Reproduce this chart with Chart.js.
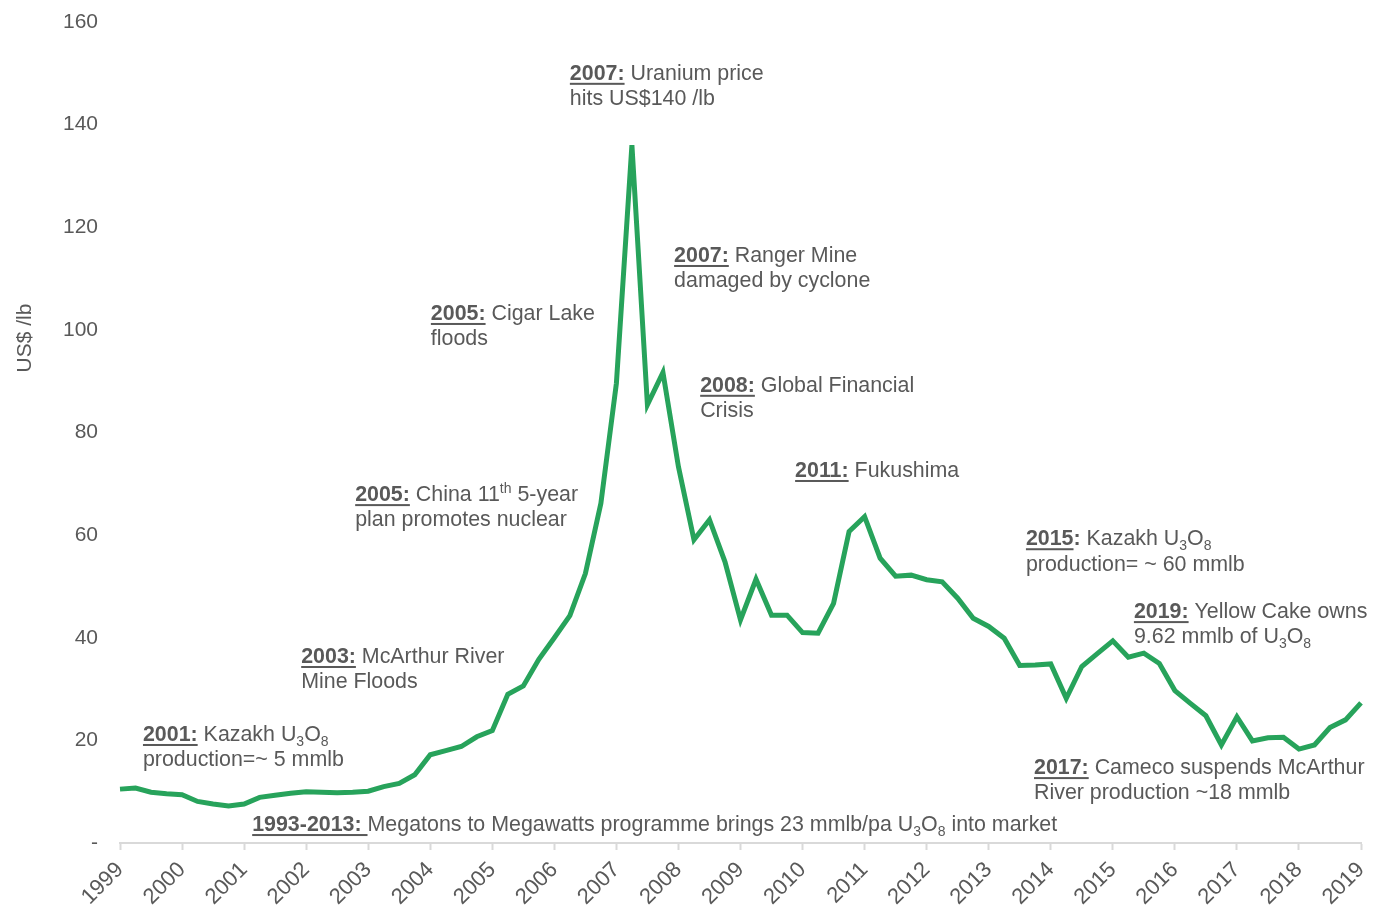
<!DOCTYPE html>
<html>
<head>
<meta charset="utf-8">
<script src="https://cdn.jsdelivr.net/npm/chart.js@4/dist/chart.umd.min.js"></script>
<style>
  body { margin: 0; background: #fff; }
  #wrap { width: 1374px; height: 909px; position: relative; }
</style>
</head>
<body>
<div id="wrap"><canvas id="uraniumChart"></canvas></div>
<script>
// quarterly uranium spot price, US$/lb, 1999 Q1 .. 2019 Q1
const years = [1999, 2000, 2001, 2002, 2003, 2004, 2005, 2006, 2007, 2008,
   2009, 2010, 2011, 2012, 2013, 2014, 2015, 2016, 2017, 2018, 2019]
const quarters = ["Q1", "Q2", "Q3", "Q4"]
const prices = [
   10.5, 10.7, 9.9, 9.6,      // 1999
   9.4, 8.1, 7.6, 7.2,        // 2000
   7.6, 8.9, 9.3, 9.7,        // 2001
   10.0, 9.9, 9.8, 9.9,       // 2002
   10.1, 11.0, 11.6, 13.3,    // 2003
   17.2, 18.0, 18.8, 20.7,    // 2004
   21.9, 29.0, 30.6, 35.8,    // 2005
   40.0, 44.3, 52.5, 66.2,    // 2006
   89.6, 136.0, 85.4, 91.7,   // 2007
   73.3, 59.1, 63.0, 54.8,    // 2008
   43.5, 51.4, 44.4, 44.4,    // 2009
   41.0, 40.9, 46.7, 60.7,    // 2010
   63.6, 55.5, 52.0, 52.2,    // 2011
   51.3, 50.9, 47.7, 43.8,    // 2012
   42.2, 39.9, 34.6, 34.7,    // 2013
   34.9, 28.2, 34.4, 36.9,    // 2014
   39.4, 36.2, 37.0, 35.0,    // 2015
   29.7, 27.2, 24.8, 19.1,    // 2016
   24.6, 19.9, 20.5, 20.6,    // 2017
   18.3, 19.1, 22.5, 24.0,    // 2018
   27.3                       // 2019
]
const yTicks = [0, 20, 40, 60, 80, 100, 120, 140, 160]
const yTitle = "US$ /lb"

// annotations: anchor in data space (x = fractional year, y = price), lines of [style, text]
const notes = [
   { x: 2006.25, y: 149.9, lines: [[["bu", "2007:"], ["n", " Uranium price"]], [["n", "hits US$140 /lb"]]] },
   { x: 2007.93, y: 114.4, lines: [[["bu", "2007:"], ["n", " Ranger Mine"]], [["n", "damaged by cyclone"]]] },
   { x: 2004.01, y: 103.1, lines: [[["bu", "2005:"], ["n", " Cigar Lake"]], [["n", "floods"]]] },
   { x: 2008.35, y: 89.1, lines: [[["bu", "2008:"], ["n", " Global Financial"]], [["n", "Crisis"]]] },
   { x: 2009.88, y: 72.5, lines: [[["bu", "2011:"], ["n", " Fukushima"]]] },
   { x: 2002.79, y: 67.8, lines: [[["bu", "2005:"], ["n", " China 11"], ["sup", "th"], ["n", " 5-year"]], [["n", "plan promotes nuclear"]]] },
   { x: 2013.60, y: 59.2, lines: [[["bu", "2015"], ["b", ":"], ["n", " Kazakh U"], ["sub", "3"], ["n", "O"], ["sub", "8"]], [["n", "production= ~ 60 mmlb"]]] },
   { x: 2015.34, y: 45.0, lines: [[["bu", "2019:"], ["n", " Yellow Cake owns"]], [["n", "9.62 mmlb of U"], ["sub", "3"], ["n", "O"], ["sub", "8"]]] },
   { x: 2001.92, y: 36.25, lines: [[["bu", "2003:"], ["n", " McArthur River"]], [["n", "Mine Floods"]]] },
   { x: 1999.37, y: 21.05, lines: [[["bu", "2001:"], ["n", " Kazakh U"], ["sub", "3"], ["n", "O"], ["sub", "8"]], [["n", "production=~ 5 mmlb"]]] },
   { x: 2013.73, y: 14.6, lines: [[["bu", "2017:"], ["n", " Cameco suspends McArthur"]], [["n", "River production ~18 mmlb"]]] },
   { x: 2001.13, y: 3.5, lines: [[["bu", "1993-2013: "], ["n", "Megatons to Megawatts programme brings 23 mmlb/pa U"], ["sub", "3"], ["n", "O"], ["sub", "8"], ["n", " into market"]]] },
]

const labels = []
years.forEach(yr => {
   quarters.forEach(q => {
      if (labels.length < prices.length) labels.push(yr + " " + q)
   })
})

const FONT = '"Liberation Sans", Arial, sans-serif'
const TEXT = "#595959"
const AXIS = "#d9d9d9"

drawRich = (ctx, x, y, segs) => {
   let cx = x
   segs.forEach(([style, txt]) => {
      let size = 21.4
      let dy = 0
      if (style === "sub") { size = 14; dy = 7 }
      if (style === "sup") { size = 14; dy = -6 }
      const weight = style[0] === "b" ? "bold " : ""
      ctx.font = weight + size + "px " + FONT
      ctx.fillText(txt, cx, y + dy)
      const w = ctx.measureText(txt).width
      if (style === "bu") ctx.fillRect(cx, y + 9, w, 2)
      cx += w
   })
}

const notesPlugin = {
   id: "notes",
   afterDraw(chart) {
      const ctx = chart.ctx
      const xs = chart.scales.x
      const ys = chart.scales.y
      ctx.save()
      ctx.fillStyle = TEXT
      ctx.textBaseline = "middle"
      ctx.textAlign = "left"
      notes.forEach(note => {
         // fractional year -> category index
         const px = xs.getPixelForValue((note.x - years[0]) * 4)
         const py = ys.getPixelForValue(note.y)
         note.lines.forEach((line, i) => drawRich(ctx, px, py + i * 25.5, line))
      })
      // y axis title
      ctx.translate(25, 338)
      ctx.rotate(-Math.PI / 2)
      ctx.textAlign = "center"
      ctx.font = "21px " + FONT
      ctx.fillText(yTitle, 0, 0)
      ctx.restore()
   },
}

const chartCanvas = document.getElementById("uraniumChart")
const uraniumChart = new Chart(chartCanvas.getContext("2d"), {
   type: "line",
   data: {
      labels: labels,
      datasets: [
         {
            label: "Uranium price",
            data: prices,
            borderColor: "#27a35b",
            borderWidth: 5,
            pointRadius: 0,
            tension: 0,
            fill: false,
         },
      ],
   },
   options: {
      responsive: true,
      maintainAspectRatio: false,
      animation: false,
      layout: { padding: { left: 0, right: 13, top: 22, bottom: 0 } },
      plugins: {
         legend: { display: false },
         tooltip: { enabled: false },
      },
      scales: {
         x: {
            type: "category",
            offset: false,
            afterFit: scale => {
               scale.height = 66
               scale.paddingLeft = 0
               scale.paddingRight = 0
            },
            border: { display: true, color: AXIS, width: 2 },
            grid: {
               drawOnChartArea: false,
               drawTicks: true,
               tickLength: 7,
               tickWidth: 2,
               tickColor: c => (c.index % 4 === 0 ? AXIS : "rgba(0,0,0,0)"),
            },
            ticks: {
               autoSkip: false,
               minRotation: 45,
               maxRotation: 45,
               padding: 7,
               color: TEXT,
               font: { family: FONT, size: 22 },
               callback: function (value) {
                  const l = this.getLabelForValue(value)
                  return l.endsWith("Q1") ? l.slice(0, 4) : ""
               },
            },
         },
         y: {
            min: yTicks[0],
            max: yTicks[yTicks.length - 1],
            afterFit: scale => {
               scale.width = 120
               scale.paddingTop = 0
               scale.paddingBottom = 0
            },
            afterBuildTicks: scale => { scale.ticks = yTicks.map(v => ({ value: v })) },
            border: { display: false },
            grid: { display: false, drawTicks: false },
            ticks: {
               padding: 22,
               color: TEXT,
               font: { family: FONT, size: 21 },
               callback: v => (v === 0 ? "-" : v),
            },
         },
      },
   },
   plugins: [notesPlugin],
})
</script>
</body>
</html>
